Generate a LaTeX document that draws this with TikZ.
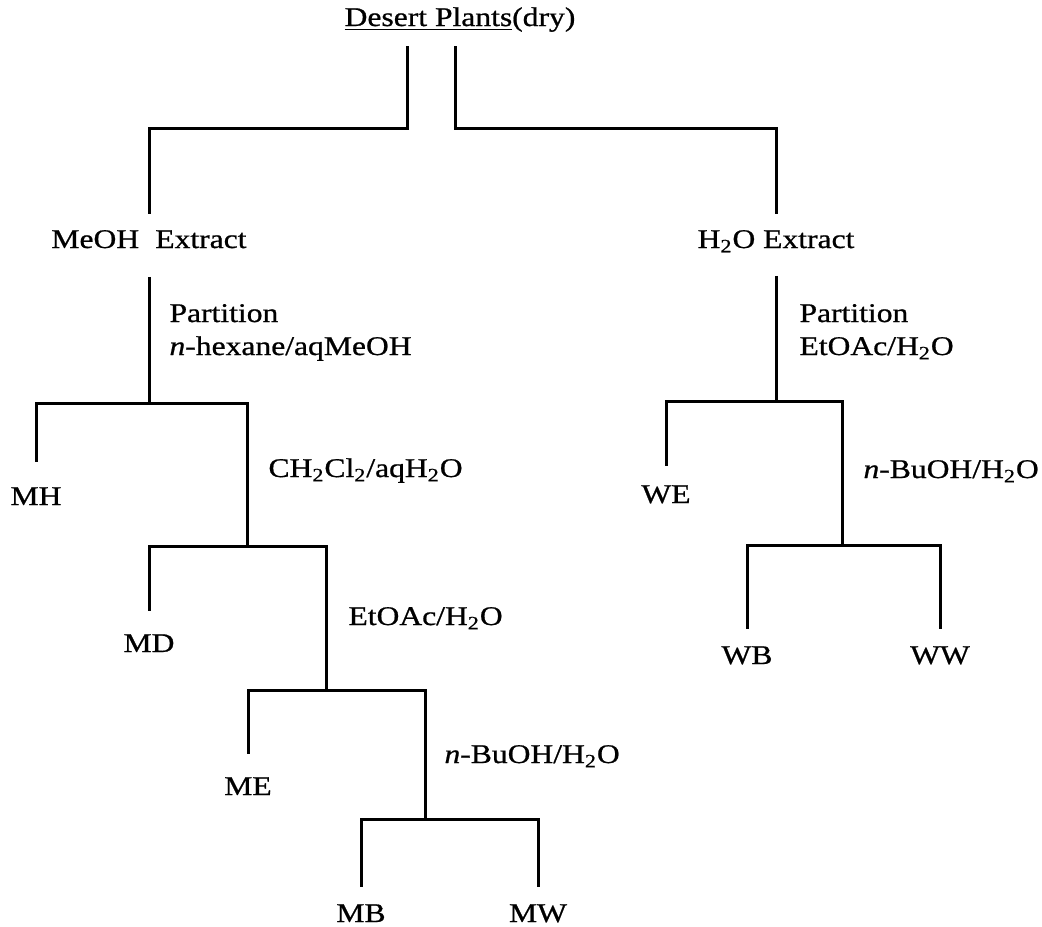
\documentclass[tikz,border=0pt]{standalone}
\usepackage{fontspec}
\setmainfont[FakeStretch=1.17,FakeBold=0.8]{Liberation Serif}
\newcommand{\sub}[1]{\textsubscript{#1}}
\begin{document}
\begin{tikzpicture}[x=0.5pt,y=-0.5pt,line width=1.5pt,
    every node/.style={inner sep=0pt,font=\fontsize{13.5}{16.5}\selectfont},
    fraction/.style={anchor=base},
    step label/.style={anchor=base west,align=left}]
    \useasboundingbox (0,0) rectangle (1042,926);

    % starting material and the two extracts
    \node[fraction] (plants) at (460,26) {\underline{Desert Plants}(dry)};
    \node[fraction] (meoh) at (149,248) {MeOH\hspace{0.6em}Extract};
    \node[fraction] (water) at (776,248) {H\sub{2}O Extract};

    \coordinate (tl) at (407,46);
    \coordinate (tr) at (455,46);
    \draw[shorten >=7.5pt] (tl) -- (407,128) -| (meoh.north);
    \draw[shorten >=7.5pt] (tr) -- (455,128) -| (water.north);

    % MeOH side
    \node[fraction] (mh) at (36,505) {MH};
    \node[fraction] (md) at (149,652) {MD};
    \node[fraction] (me) at (248,795) {ME};
    \node[fraction] (mb) at (361,922) {MB};
    \node[fraction] (mw) at (538,922) {MW};

    \coordinate (f1) at (meoh.south |- 0,403);
    \coordinate (f2) at (247,546);
    \coordinate (f3) at (326,690);
    \coordinate (f4) at (425,819);

    \draw[shorten <=13.5pt] (meoh.south) -- (f1);
    \draw[shorten <=12pt] (mh.north) |- (f1) -| (f2);
    \draw[shorten <=11pt] (md.north) |- (f2) -| (f3);
    \draw[shorten <=11pt] (me.north) |- (f3) -| (f4);
    \draw[shorten <=8pt,shorten >=8pt] (mb.north) |- (f4) -| (mw.north);

    \node[step label] (sm1) at (168,355) {Partition\\\textit{n}-hexane/aqMeOH};
    \node[step label] (sm2) at (267,477) {CH\sub{2}Cl\sub{2}/aqH\sub{2}O};
    \node[step label] (sm3) at (347,625) {EtOAc/H\sub{2}O};
    \node[step label] (sm4) at (443,763) {\textit{n}-BuOH/H\sub{2}O};

    % H2O side
    \node[fraction] (we) at (666,503) {WE};
    \node[fraction] (wb) at (747,664) {WB};
    \node[fraction] (ww) at (940,664) {WW};

    \coordinate (f5) at (water.south |- 0,401);
    \coordinate (f6) at (842,545);

    \draw[shorten <=11pt] (water.south) -- (f5);
    \draw[shorten <=9pt] (we.north) |- (f5) -| (f6);
    \draw[shorten <=8pt,shorten >=8pt] (wb.north) |- (f6) -| (ww.north);

    \node[step label] (sw1) at (798,355) {Partition\\EtOAc/H\sub{2}O};
    \node[step label] (sw2) at (862,478) {\textit{n}-BuOH/H\sub{2}O};
\end{tikzpicture}
\end{document}
